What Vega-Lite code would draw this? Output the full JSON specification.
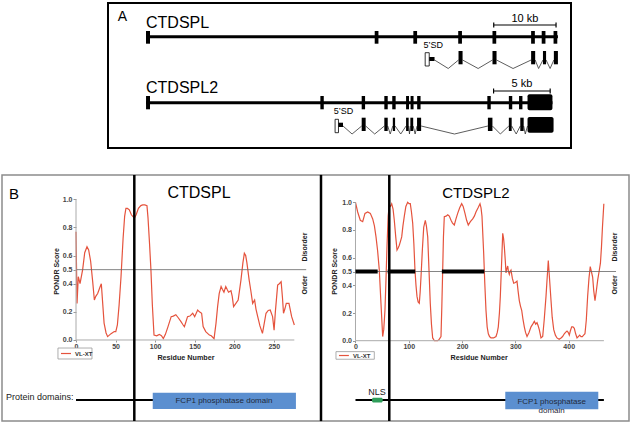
{
  "$schema": "https://vega.github.io/schema/vega-lite/v6.json",
  "padding": {"left": 1, "top": 2, "right": 0, "bottom": 0},
  "background": "white",
  "spacing": 24,
  "config": {"font": "Liberation Sans", "text": {"baseline": "middle"}},
  "datasets": {
    "g1_gene": [{"start": 0, "end": 66.1}],
    "g1_exons": [{"start": 0, "end": 0.64}, {"start": 36.7, "end": 37.3}, {"start": 42.9, "end": 43.5}, {"start": 50.1, "end": 50.7}, {"start": 55.6, "end": 56.2}, {"start": 61.8, "end": 62.4}, {"start": 63.5, "end": 64.1}, {"start": 65.4, "end": 66.0}],
    "g1_scale": [{"start": 55.8, "end": 65.8, "label": "10 kb"}],
    "g1_first": [{"start": 44.8, "mid": 45.45, "end": 46.3}],
    "g1_tx": [{"start": 50.15, "end": 50.8}, {"start": 55.6, "end": 56.25}, {"start": 61.8, "end": 62.45}, {"start": 63.7, "end": 64.2}, {"start": 65.45, "end": 66.1}],
    "g1_introns": [{"start": 46.3, "apex": 48.5, "end": 50.15}, {"start": 50.8, "apex": 53.3, "end": 55.6}, {"start": 56.25, "apex": 58.9, "end": 61.8}, {"start": 62.45, "apex": 63.0, "end": 63.7}, {"start": 64.2, "apex": 64.85, "end": 65.45}],
    "g2_gene": [{"start": 0, "end": 35.9}],
    "g2_exons": [{"start": 0, "end": 0.35}, {"start": 15.4, "end": 15.7}, {"start": 19.05, "end": 19.35}, {"start": 21.05, "end": 21.35}, {"start": 21.75, "end": 22.05}, {"start": 22.97, "end": 23.23}, {"start": 23.37, "end": 23.63}, {"start": 23.95, "end": 24.25}, {"start": 30.15, "end": 30.45}, {"start": 32.05, "end": 32.35}, {"start": 32.95, "end": 33.25}],
    "g2_last": [{"start": 33.7, "end": 35.9}],
    "g2_scale": [{"start": 30.7, "end": 35.7, "label": "5 kb"}],
    "g2_first": [{"start": 16.7, "mid": 17.0, "end": 17.4}],
    "g2_tx": [{"start": 19.05, "end": 19.4}, {"start": 21.05, "end": 21.35}, {"start": 21.8, "end": 22.0}, {"start": 22.97, "end": 23.2}, {"start": 23.35, "end": 23.6}, {"start": 23.94, "end": 24.3}, {"start": 30.2, "end": 30.6}, {"start": 32.05, "end": 32.3}, {"start": 33.06, "end": 33.36}],
    "g2_tx_last": [{"start": 33.7, "end": 36.0}],
    "g2_introns": [{"start": 17.4, "apex": 18.2, "end": 19.05}, {"start": 19.4, "apex": 20.2, "end": 21.05}, {"start": 21.35, "apex": 21.57, "end": 21.8}, {"start": 22.0, "apex": 22.5, "end": 22.97}, {"start": 23.2, "apex": 23.27, "end": 23.35}, {"start": 23.6, "apex": 23.77, "end": 23.94}, {"start": 24.3, "apex": 27.25, "end": 30.2}, {"start": 30.6, "apex": 31.3, "end": 32.05}, {"start": 32.3, "apex": 32.7, "end": 33.06}, {"start": 33.36, "apex": 33.5, "end": 33.7}],
    "ctdspl": [{"res":0,"score":0.77},{"res":1.3,"score":0.26},{"res":2.9,"score":0.45},{"res":5.1,"score":0.40},{"res":8.4,"score":0.50},{"res":11,"score":0.62},{"res":13.9,"score":0.663},{"res":16,"score":0.64},{"res":18.5,"score":0.56},{"res":21,"score":0.42},{"res":23.2,"score":0.284},{"res":25,"score":0.31},{"res":27.4,"score":0.33},{"res":30.6,"score":0.38},{"res":32,"score":0.40},{"res":33.5,"score":0.28},{"res":35.5,"score":0.12},{"res":38,"score":0.05},{"res":40,"score":0.024},{"res":44.3,"score":0.045},{"res":48.3,"score":0.06},{"res":50.3,"score":0.06},{"res":52.3,"score":0.107},{"res":54.5,"score":0.25},{"res":56.9,"score":0.45},{"res":59.5,"score":0.72},{"res":61.5,"score":0.88},{"res":63.1,"score":0.936},{"res":65,"score":0.935},{"res":67.4,"score":0.925},{"res":70,"score":0.89},{"res":73.8,"score":0.865},{"res":76,"score":0.89},{"res":78.9,"score":0.936},{"res":82,"score":0.955},{"res":84.3,"score":0.96},{"res":87,"score":0.96},{"res":89.7,"score":0.955},{"res":91,"score":0.87},{"res":93,"score":0.68},{"res":94.7,"score":0.5},{"res":96.5,"score":0.25},{"res":98.6,"score":0.035},{"res":102,"score":0.03},{"res":105.3,"score":0.04},{"res":108,"score":0.03},{"res":110.4,"score":0.01},{"res":113,"score":0.04},{"res":116,"score":0.09},{"res":120.3,"score":0.166},{"res":123,"score":0.17},{"res":126.2,"score":0.18},{"res":129,"score":0.16},{"res":132.7,"score":0.13},{"res":135,"score":0.11},{"res":137,"score":0.095},{"res":139,"score":0.13},{"res":141,"score":0.166},{"res":144,"score":0.17},{"res":147.5,"score":0.19},{"res":150,"score":0.166},{"res":153.8,"score":0.213},{"res":156,"score":0.2},{"res":158.8,"score":0.19},{"res":160.7,"score":0.095},{"res":164,"score":0.06},{"res":168.6,"score":0.035},{"res":171,"score":0.03},{"res":174.5,"score":0.01},{"res":177,"score":0.12},{"res":179,"score":0.237},{"res":181,"score":0.33},{"res":183.4,"score":0.38},{"res":185,"score":0.36},{"res":187,"score":0.34},{"res":189.3,"score":0.38},{"res":191,"score":0.36},{"res":192.8,"score":0.34},{"res":195.9,"score":0.35},{"res":197.5,"score":0.31},{"res":199.2,"score":0.237},{"res":202.1,"score":0.26},{"res":205,"score":0.284},{"res":208.5,"score":0.426},{"res":211,"score":0.55},{"res":212.8,"score":0.616},{"res":214.5,"score":0.6},{"res":216,"score":0.55},{"res":218.9,"score":0.426},{"res":221,"score":0.35},{"res":223.3,"score":0.26},{"res":225.8,"score":0.284},{"res":227.5,"score":0.22},{"res":229.7,"score":0.166},{"res":232.5,"score":0.1},{"res":235.7,"score":0.047},{"res":238,"score":0.12},{"res":240.2,"score":0.19},{"res":243,"score":0.21},{"res":245.5,"score":0.213},{"res":248.5,"score":0.166},{"res":250.4,"score":0.07},{"res":252,"score":0.2},{"res":254.9,"score":0.39},{"res":257,"score":0.40},{"res":259.3,"score":0.414},{"res":261,"score":0.3},{"res":262.3,"score":0.19},{"res":264,"score":0.22},{"res":265.8,"score":0.26},{"res":269.2,"score":0.26},{"res":272.6,"score":0.166},{"res":276,"score":0.107}],
    "ctdspl2": [{"res":0,"score":1.0},{"res":4.1,"score":0.93},{"res":9,"score":0.87},{"res":13.5,"score":0.86},{"res":17.8,"score":0.92},{"res":22.9,"score":0.93},{"res":27.8,"score":0.92},{"res":32.3,"score":0.88},{"res":35.5,"score":0.83},{"res":38.5,"score":0.75},{"res":41.5,"score":0.65},{"res":44.7,"score":0.51},{"res":47.8,"score":0.27},{"res":51,"score":0.03},{"res":53,"score":0.08},{"res":55.3,"score":0.22},{"res":57.3,"score":0.45},{"res":59.1,"score":0.68},{"res":61.3,"score":0.9},{"res":63.4,"score":0.98},{"res":65.5,"score":0.97},{"res":67.9,"score":0.99},{"res":70.5,"score":0.95},{"res":72.8,"score":0.87},{"res":75.5,"score":0.75},{"res":77.9,"score":0.655},{"res":80,"score":0.67},{"res":82.2,"score":0.69},{"res":84.5,"score":0.72},{"res":86.7,"score":0.75},{"res":89,"score":0.83},{"res":91.6,"score":0.90},{"res":94.5,"score":0.97},{"res":97.9,"score":1.0},{"res":100.5,"score":0.99},{"res":102.8,"score":0.99},{"res":105,"score":0.93},{"res":107.3,"score":0.85},{"res":109.5,"score":0.7},{"res":111.6,"score":0.51},{"res":113.5,"score":0.4},{"res":115.4,"score":0.32},{"res":117.5,"score":0.28},{"res":119.7,"score":0.27},{"res":121.3,"score":0.35},{"res":122.9,"score":0.46},{"res":125.5,"score":0.66},{"res":128,"score":0.82},{"res":131,"score":0.87},{"res":133,"score":0.83},{"res":135.5,"score":0.75},{"res":138,"score":0.5},{"res":140.3,"score":0.27},{"res":142.5,"score":0.12},{"res":144.8,"score":0.02},{"res":148,"score":0.0},{"res":151,"score":0.0},{"res":154.2,"score":0.0},{"res":157,"score":0.01},{"res":160.4,"score":0.03},{"res":162,"score":0.25},{"res":163.6,"score":0.51},{"res":165,"score":0.75},{"res":166.6,"score":0.896},{"res":170,"score":0.9},{"res":173,"score":0.91},{"res":176,"score":0.9},{"res":179.2,"score":0.87},{"res":182,"score":0.85},{"res":185.4,"score":0.836},{"res":188.5,"score":0.88},{"res":191.7,"score":0.92},{"res":195.5,"score":0.96},{"res":199.2,"score":0.99},{"res":202,"score":0.97},{"res":205.4,"score":0.92},{"res":208.5,"score":0.87},{"res":211.6,"score":0.836},{"res":215.5,"score":0.86},{"res":219.9,"score":0.88},{"res":223,"score":0.9},{"res":226,"score":0.93},{"res":230,"score":0.96},{"res":233.6,"score":0.99},{"res":235.5,"score":0.96},{"res":237.3,"score":0.90},{"res":240.5,"score":0.63},{"res":242.5,"score":0.42},{"res":244.8,"score":0.22},{"res":247,"score":0.1},{"res":249.2,"score":0.05},{"res":251.5,"score":0.03},{"res":254.2,"score":0.02},{"res":259,"score":0.02},{"res":263.6,"score":0.03},{"res":266,"score":0.06},{"res":267.9,"score":0.10},{"res":270,"score":0.2},{"res":271.7,"score":0.32},{"res":274,"score":0.55},{"res":276.2,"score":0.776},{"res":277.8,"score":0.74},{"res":279.2,"score":0.68},{"res":281,"score":0.58},{"res":282.4,"score":0.49},{"res":284,"score":0.52},{"res":285.6,"score":0.54},{"res":287,"score":0.5},{"res":288.6,"score":0.48},{"res":290,"score":0.5},{"res":291.7,"score":0.51},{"res":294.3,"score":0.45},{"res":296.8,"score":0.415},{"res":300,"score":0.42},{"res":303,"score":0.43},{"res":305,"score":0.36},{"res":307.3,"score":0.29},{"res":309.5,"score":0.25},{"res":311.8,"score":0.22},{"res":314,"score":0.16},{"res":316.7,"score":0.10},{"res":319,"score":0.06},{"res":321.8,"score":0.03},{"res":325.5,"score":0.06},{"res":329.3,"score":0.10},{"res":332.5,"score":0.12},{"res":335.5,"score":0.14},{"res":338,"score":0.12},{"res":340.5,"score":0.13},{"res":342.5,"score":0.11},{"res":344.8,"score":0.08},{"res":348,"score":0.02},{"res":351.2,"score":0.03},{"res":354,"score":0.15},{"res":357.4,"score":0.32},{"res":359.5,"score":0.45},{"res":361.7,"score":0.58},{"res":364,"score":0.45},{"res":366.8,"score":0.29},{"res":369,"score":0.17},{"res":371.9,"score":0.08},{"res":375,"score":0.04},{"res":378,"score":0.02},{"res":382,"score":0.01},{"res":385.6,"score":0.02},{"res":388.5,"score":0.03},{"res":391.7,"score":0.05},{"res":394,"score":0.06},{"res":396.8,"score":0.07},{"res":399,"score":0.06},{"res":401.1,"score":0.04},{"res":403,"score":0.07},{"res":405.6,"score":0.10},{"res":408,"score":0.1},{"res":410.5,"score":0.09},{"res":413,"score":0.05},{"res":415.6,"score":0.02},{"res":418,"score":0.03},{"res":420.6,"score":0.04},{"res":423,"score":0.03},{"res":425.5,"score":0.03},{"res":428,"score":0.04},{"res":430.5,"score":0.05},{"res":433,"score":0.15},{"res":435.5,"score":0.32},{"res":438,"score":0.45},{"res":440.4,"score":0.535},{"res":442.5,"score":0.5},{"res":444.9,"score":0.46},{"res":447,"score":0.36},{"res":449.3,"score":0.29},{"res":451.5,"score":0.35},{"res":454.4,"score":0.44},{"res":457,"score":0.5},{"res":459.5,"score":0.56},{"res":461.5,"score":0.68},{"res":463.3,"score":0.82},{"res":465.9,"score":0.99}],
    "ctdspl_protein": [{"start": 0, "end": 276}],
    "ctdspl_domains": [{"name": "FCP1 phosphatase domain", "start": 97, "end": 278}],
    "ctdspl2_protein": [{"start": 0, "end": 466}],
    "ctdspl2_nls": [{"name": "NLS", "start": 31, "end": 51}],
    "ctdspl2_domains": [{"name": "FCP1 phosphatase\ndomain", "start": 281, "end": 455.5}],
    "ctdspl2_disorder": [{"start": 0, "end": 41.6}, {"start": 60.4, "end": 112}, {"start": 162, "end": 241.6}],
    "one": [{}]
  },
  "vconcat": [
    {
      "spacing": 0,
      "bounds": "flush",
      "hconcat": [
        {"width": 106, "height": 145, "data": {"name": "one"}, "mark": {"type": "point", "opacity": 0}, "encoding": {}, "view": {"stroke": null}},
        {
          "width": 463,
          "height": 145,
          "view": {"stroke": "black", "strokeWidth": 2},
          "resolve": {"scale": {"x": "independent"}},
          "layer": [
            {
              "layer": [
                {"data": {"name": "g1_gene"}, "mark": {"type": "rule", "color": "black", "strokeWidth": 3},
                 "encoding": {"x": {"field": "start", "type": "quantitative", "scale": {"domain": [-6.1, 68.2], "nice": false, "zero": false}, "axis": null}, "x2": {"field": "end"},
                              "y": {"datum": 33.7, "type": "quantitative", "scale": {"domain": [0, 145], "reverse": true, "nice": false, "zero": false}, "axis": null}}},
                {"data": {"name": "g1_exons"}, "mark": {"type": "rect", "color": "black"},
                 "encoding": {"x": {"field": "start", "type": "quantitative", "axis": null}, "x2": {"field": "end"}, "y": {"datum": 28, "type": "quantitative", "axis": null}, "y2": {"datum": 40.7}}},
                {"data": {"name": "g1_scale"}, "mark": {"type": "rule", "color": "black", "strokeWidth": 1.2},
                 "encoding": {"x": {"field": "start", "type": "quantitative", "axis": null}, "x2": {"field": "end"}, "y": {"datum": 22, "type": "quantitative", "axis": null}}},
                {"data": {"name": "g1_scale"}, "mark": {"type": "rule", "color": "black", "strokeWidth": 1.2},
                 "encoding": {"x": {"field": "start", "type": "quantitative", "axis": null}, "y": {"datum": 19.5, "type": "quantitative", "axis": null}, "y2": {"datum": 24.5}}},
                {"data": {"name": "g1_scale"}, "mark": {"type": "rule", "color": "black", "strokeWidth": 1.2},
                 "encoding": {"x": {"field": "end", "type": "quantitative", "axis": null}, "y": {"datum": 19.5, "type": "quantitative", "axis": null}, "y2": {"datum": 24.5}}},
                {"data": {"name": "g1_scale"}, "mark": {"type": "text", "fontSize": 11, "color": "black"},
                 "encoding": {"x": {"datum": 60.8, "type": "quantitative", "axis": null}, "y": {"datum": 15.8, "type": "quantitative", "axis": null}, "text": {"field": "label"}}},
                {"data": {"name": "one"}, "mark": {"type": "text", "fontSize": 16, "align": "left", "color": "black"},
                 "encoding": {"x": {"datum": 0, "type": "quantitative", "axis": null}, "y": {"datum": 20, "type": "quantitative", "axis": null}, "text": {"value": "CTDSPL"}}},
                {"data": {"name": "one"}, "mark": {"type": "text", "fontSize": 14, "color": "black"},
                 "encoding": {"x": {"datum": -3.77, "type": "quantitative", "axis": null}, "y": {"datum": 13.5, "type": "quantitative", "axis": null}, "text": {"value": "A"}}},
                {"data": {"name": "one"}, "mark": {"type": "text", "fontSize": 9, "color": "black"},
                 "encoding": {"x": {"datum": 46.1, "type": "quantitative", "axis": null}, "y": {"datum": 42.3, "type": "quantitative", "axis": null}, "text": {"value": "5’SD"}}},
                {"data": {"name": "g1_introns"}, "mark": {"type": "rule", "color": "#333", "strokeWidth": 0.8},
                 "encoding": {"x": {"field": "start", "type": "quantitative", "axis": null}, "x2": {"field": "apex"}, "y": {"datum": 57, "type": "quantitative", "axis": null}, "y2": {"datum": 65.5}}},
                {"data": {"name": "g1_introns"}, "mark": {"type": "rule", "color": "#333", "strokeWidth": 0.8},
                 "encoding": {"x": {"field": "apex", "type": "quantitative", "axis": null}, "x2": {"field": "end"}, "y": {"datum": 65.5, "type": "quantitative", "axis": null}, "y2": {"datum": 57}}},
                {"data": {"name": "g1_first"}, "mark": {"type": "rect", "fill": "white", "stroke": "black", "strokeWidth": 0.8},
                 "encoding": {"x": {"field": "start", "type": "quantitative", "axis": null}, "x2": {"field": "mid"}, "y": {"datum": 49.7, "type": "quantitative", "axis": null}, "y2": {"datum": 63}}},
                {"data": {"name": "g1_first"}, "mark": {"type": "rect", "color": "black"},
                 "encoding": {"x": {"field": "mid", "type": "quantitative", "axis": null}, "x2": {"field": "end"}, "y": {"datum": 54, "type": "quantitative", "axis": null}, "y2": {"datum": 58}}},
                {"data": {"name": "g1_tx"}, "mark": {"type": "rect", "color": "black"},
                 "encoding": {"x": {"field": "start", "type": "quantitative", "axis": null}, "x2": {"field": "end"}, "y": {"datum": 48, "type": "quantitative", "axis": null}, "y2": {"datum": 61.3}}}
              ]
            },
            {
              "layer": [
                {"data": {"name": "g2_gene"}, "mark": {"type": "rule", "color": "black", "strokeWidth": 3},
                 "encoding": {"x": {"field": "start", "type": "quantitative", "scale": {"domain": [-3.36, 37.54], "nice": false, "zero": false}, "axis": null}, "x2": {"field": "end"},
                              "y": {"datum": 99.7, "type": "quantitative", "axis": null}}},
                {"data": {"name": "g2_exons"}, "mark": {"type": "rect", "color": "black"},
                 "encoding": {"x": {"field": "start", "type": "quantitative", "axis": null}, "x2": {"field": "end"}, "y": {"datum": 93, "type": "quantitative", "axis": null}, "y2": {"datum": 106.3}}},
                {"data": {"name": "g2_last"}, "mark": {"type": "rect", "color": "black", "cornerRadius": 2},
                 "encoding": {"x": {"field": "start", "type": "quantitative", "axis": null}, "x2": {"field": "end"}, "y": {"datum": 91.3, "type": "quantitative", "axis": null}, "y2": {"datum": 107.3}}},
                {"data": {"name": "g2_scale"}, "mark": {"type": "rule", "color": "black", "strokeWidth": 1.2},
                 "encoding": {"x": {"field": "start", "type": "quantitative", "axis": null}, "x2": {"field": "end"}, "y": {"datum": 88, "type": "quantitative", "axis": null}}},
                {"data": {"name": "g2_scale"}, "mark": {"type": "rule", "color": "black", "strokeWidth": 1.2},
                 "encoding": {"x": {"field": "start", "type": "quantitative", "axis": null}, "y": {"datum": 85.5, "type": "quantitative", "axis": null}, "y2": {"datum": 90.5}}},
                {"data": {"name": "g2_scale"}, "mark": {"type": "rule", "color": "black", "strokeWidth": 1.2},
                 "encoding": {"x": {"field": "end", "type": "quantitative", "axis": null}, "y": {"datum": 85.5, "type": "quantitative", "axis": null}, "y2": {"datum": 90.5}}},
                {"data": {"name": "g2_scale"}, "mark": {"type": "text", "fontSize": 11, "color": "black"},
                 "encoding": {"x": {"datum": 33.2, "type": "quantitative", "axis": null}, "y": {"datum": 80.5, "type": "quantitative", "axis": null}, "text": {"field": "label"}}},
                {"data": {"name": "one"}, "mark": {"type": "text", "fontSize": 16, "align": "left", "color": "black"},
                 "encoding": {"x": {"datum": 0, "type": "quantitative", "axis": null}, "y": {"datum": 85.3, "type": "quantitative", "axis": null}, "text": {"value": "CTDSPL2"}}},
                {"data": {"name": "one"}, "mark": {"type": "text", "fontSize": 9, "color": "black"},
                 "encoding": {"x": {"datum": 17.45, "type": "quantitative", "axis": null}, "y": {"datum": 108, "type": "quantitative", "axis": null}, "text": {"value": "5’SD"}}},
                {"data": {"name": "g2_introns"}, "mark": {"type": "rule", "color": "#333", "strokeWidth": 0.8},
                 "encoding": {"x": {"field": "start", "type": "quantitative", "axis": null}, "x2": {"field": "apex"}, "y": {"datum": 123, "type": "quantitative", "axis": null}, "y2": {"datum": 131}}},
                {"data": {"name": "g2_introns"}, "mark": {"type": "rule", "color": "#333", "strokeWidth": 0.8},
                 "encoding": {"x": {"field": "apex", "type": "quantitative", "axis": null}, "x2": {"field": "end"}, "y": {"datum": 131, "type": "quantitative", "axis": null}, "y2": {"datum": 123}}},
                {"data": {"name": "g2_first"}, "mark": {"type": "rect", "fill": "white", "stroke": "black", "strokeWidth": 0.8},
                 "encoding": {"x": {"field": "start", "type": "quantitative", "axis": null}, "x2": {"field": "mid"}, "y": {"datum": 116.3, "type": "quantitative", "axis": null}, "y2": {"datum": 129.7}}},
                {"data": {"name": "g2_first"}, "mark": {"type": "rect", "color": "black"},
                 "encoding": {"x": {"field": "mid", "type": "quantitative", "axis": null}, "x2": {"field": "end"}, "y": {"datum": 119.7, "type": "quantitative", "axis": null}, "y2": {"datum": 124}}},
                {"data": {"name": "g2_tx"}, "mark": {"type": "rect", "color": "black"},
                 "encoding": {"x": {"field": "start", "type": "quantitative", "axis": null}, "x2": {"field": "end"}, "y": {"datum": 114.7, "type": "quantitative", "axis": null}, "y2": {"datum": 128}}},
                {"data": {"name": "g2_tx_last"}, "mark": {"type": "rect", "color": "black", "cornerRadius": 2},
                 "encoding": {"x": {"field": "start", "type": "quantitative", "axis": null}, "x2": {"field": "end"}, "y": {"datum": 114, "type": "quantitative", "axis": null}, "y2": {"datum": 129.7}}}
              ]
            }
          ]
        }
      ]
    },
    {
      "spacing": 0,
      "bounds": "flush",
      "hconcat": [
        {
          "width": 319,
          "height": 246,
          "view": {"stroke": "#8c8c8c", "strokeWidth": 1.5},
          "layer": [
            {"data": {"name": "ctdspl"}, "mark": {"type": "line", "color": "#e5533d", "strokeWidth": 1.2},
             "encoding": {
               "x": {"field": "res", "type": "quantitative", "scale": {"domain": [-93.55, 309.7], "nice": false, "zero": false}, "axis": {"values": [0, 50, 100, 150, 200, 250], "offset": -81, "domain": false, "grid": false, "title": null, "tickSize": 2, "tickColor": "#999", "labelFontSize": 7, "labelFontWeight": "bold", "labelColor": "#444", "labelPadding": 0, "labelOverlap": false}},
               "y": {"field": "score", "type": "quantitative", "scale": {"domain": [-0.5757, 1.1727], "nice": false, "zero": false}, "axis": {"values": [0, 0.2, 0.4, 0.5, 0.6, 0.8, 1], "format": ".1f", "offset": -74, "domain": false, "grid": false, "title": null, "tickSize": 3, "tickColor": "#999", "labelFontSize": 7, "labelFontWeight": "bold", "labelColor": "#444", "labelPadding": 1, "labelOverlap": false}}}},
            {"data": {"name": "one"}, "mark": {"type": "rule", "color": "#666", "strokeWidth": 0.8},
             "encoding": {"x": {"datum": 0, "type": "quantitative"}, "x2": {"datum": 291}, "y": {"datum": 0.5, "type": "quantitative"}}},
            {"data": {"name": "one"}, "mark": {"type": "rule", "color": "#aaa", "strokeWidth": 1},
             "encoding": {"x": {"datum": 0, "type": "quantitative"}, "y": {"datum": 0, "type": "quantitative"}, "y2": {"datum": 1}}},
            {"data": {"name": "one"}, "mark": {"type": "rule", "color": "#aaa", "strokeWidth": 1},
             "encoding": {"x": {"datum": 0, "type": "quantitative"}, "x2": {"datum": 276}, "y": {"datum": 0, "type": "quantitative"}}},
            {"data": {"name": "one"}, "mark": {"type": "rule", "color": "black", "strokeWidth": 2.5},
             "encoding": {"x": {"datum": 73.7, "type": "quantitative"}}},
            {"data": {"name": "ctdspl_protein"}, "mark": {"type": "rule", "color": "black", "strokeWidth": 2},
             "encoding": {"x": {"field": "start", "type": "quantitative"}, "x2": {"field": "end"}, "y": {"datum": -0.426, "type": "quantitative"}}},
            {"data": {"name": "ctdspl_domains"}, "mark": {"type": "rect", "color": "#5b8fd0"},
             "encoding": {"x": {"field": "start", "type": "quantitative"}, "x2": {"field": "end"}, "y": {"datum": -0.3746, "type": "quantitative"}, "y2": {"datum": -0.49}}},
            {"data": {"name": "ctdspl_domains"}, "mark": {"type": "text", "fontSize": 8, "color": "#1f2a3a"},
             "encoding": {"x": {"datum": 187, "type": "quantitative"}, "y": {"datum": -0.434, "type": "quantitative"}, "text": {"field": "name"}}},
            {"data": {"name": "one"}, "mark": {"type": "text", "fontSize": 9, "align": "left", "color": "#222"},
             "encoding": {"x": {"datum": -88.5, "type": "quantitative"}, "y": {"datum": -0.405, "type": "quantitative"}, "text": {"value": "Protein domains:"}}},
            {"data": {"name": "one"}, "mark": {"type": "text", "fontSize": 16, "color": "black"},
             "encoding": {"x": {"datum": 155.5, "type": "quantitative"}, "y": {"datum": 1.045, "type": "quantitative"}, "text": {"value": "CTDSPL"}}},
            {"data": {"name": "one"}, "mark": {"type": "text", "fontSize": 15, "color": "black"},
             "encoding": {"x": {"datum": -78.4, "type": "quantitative"}, "y": {"datum": 1.04, "type": "quantitative"}, "text": {"value": "B"}}},
            {"data": {"name": "one"}, "mark": {"type": "text", "fontSize": 7, "fontWeight": "bold", "angle": 270, "color": "#222"},
             "encoding": {"x": {"datum": -23.5, "type": "quantitative"}, "y": {"datum": 0.487, "type": "quantitative"}, "text": {"value": "PONDR Score"}}},
            {"data": {"name": "one"}, "mark": {"type": "text", "fontSize": 7.2, "fontWeight": "bold", "color": "#222"},
             "encoding": {"x": {"datum": 139, "type": "quantitative"}, "y": {"datum": -0.126, "type": "quantitative"}, "text": {"value": "Residue Number"}}},
            {"data": {"name": "one"}, "mark": {"type": "text", "fontSize": 7, "fontWeight": "bold", "angle": 270, "color": "#222"},
             "encoding": {"x": {"datum": 289.5, "type": "quantitative"}, "y": {"datum": 0.661, "type": "quantitative"}, "text": {"value": "Disorder"}}},
            {"data": {"name": "one"}, "mark": {"type": "text", "fontSize": 7, "fontWeight": "bold", "angle": 270, "color": "#222"},
             "encoding": {"x": {"datum": 289.5, "type": "quantitative"}, "y": {"datum": 0.391, "type": "quantitative"}, "text": {"value": "Order"}}},
            {"data": {"name": "one"}, "mark": {"type": "rect", "fill": "white", "stroke": "#999", "strokeWidth": 0.8},
             "encoding": {"x": {"datum": -22.8, "type": "quantitative"}, "x2": {"datum": 20.2}, "y": {"datum": -0.057, "type": "quantitative"}, "y2": {"datum": -0.135}}},
            {"data": {"name": "one"}, "mark": {"type": "rule", "color": "#e5533d", "strokeWidth": 1.2},
             "encoding": {"x": {"datum": -19, "type": "quantitative"}, "x2": {"datum": -6.3}, "y": {"datum": -0.096, "type": "quantitative"}}},
            {"data": {"name": "one"}, "mark": {"type": "text", "fontSize": 6, "fontWeight": "bold", "align": "left", "color": "#333"},
             "encoding": {"x": {"datum": -1.3, "type": "quantitative"}, "y": {"datum": -0.096, "type": "quantitative"}, "text": {"value": "VL-XT"}}}
          ]
        },
        {
          "width": 308,
          "height": 246,
          "view": {"stroke": "#8c8c8c", "strokeWidth": 1.5},
          "layer": [
            {"data": {"name": "ctdspl2"}, "mark": {"type": "line", "color": "#e5533d", "strokeWidth": 1.2},
             "encoding": {
               "x": {"field": "res", "type": "quantitative", "scale": {"domain": [-64.7, 513.1], "nice": false, "zero": false}, "axis": {"values": [0, 100, 200, 300, 400], "offset": -80.3, "domain": false, "grid": false, "title": null, "tickSize": 2, "tickColor": "#999", "labelFontSize": 7, "labelFontWeight": "bold", "labelColor": "#444", "labelPadding": 0, "labelOverlap": false}},
               "y": {"field": "score", "type": "quantitative", "scale": {"domain": [-0.5802, 1.1973], "nice": false, "zero": false}, "axis": {"values": [0, 0.2, 0.4, 0.5, 0.6, 0.8, 1], "format": ".1f", "offset": -34.5, "domain": false, "grid": false, "title": null, "tickSize": 3, "tickColor": "#999", "labelFontSize": 7, "labelFontWeight": "bold", "labelColor": "#444", "labelPadding": 1, "labelOverlap": false}}}},
            {"data": {"name": "one"}, "mark": {"type": "rule", "color": "#666", "strokeWidth": 0.8},
             "encoding": {"x": {"datum": 0, "type": "quantitative"}, "x2": {"datum": 488.8}, "y": {"datum": 0.5, "type": "quantitative"}}},
            {"data": {"name": "one"}, "mark": {"type": "rule", "color": "#aaa", "strokeWidth": 1},
             "encoding": {"x": {"datum": 0, "type": "quantitative"}, "y": {"datum": 0, "type": "quantitative"}, "y2": {"datum": 1}}},
            {"data": {"name": "one"}, "mark": {"type": "rule", "color": "#aaa", "strokeWidth": 1},
             "encoding": {"x": {"datum": 0, "type": "quantitative"}, "x2": {"datum": 466}, "y": {"datum": 0, "type": "quantitative"}}},
            {"data": {"name": "ctdspl2_disorder"}, "mark": {"type": "rule", "color": "black", "strokeWidth": 4, "strokeCap": "butt"},
             "encoding": {"x": {"field": "start", "type": "quantitative"}, "x2": {"field": "end"}, "y": {"datum": 0.5, "type": "quantitative"}}},
            {"data": {"name": "one"}, "mark": {"type": "rule", "color": "black", "strokeWidth": 2.5},
             "encoding": {"x": {"datum": 63.4, "type": "quantitative"}}},
            {"data": {"name": "one"}, "mark": {"type": "rule", "color": "black", "strokeWidth": 2.5},
             "encoding": {"x": {"datum": -64.7, "type": "quantitative"}}},
            {"data": {"name": "ctdspl2_protein"}, "mark": {"type": "rule", "color": "black", "strokeWidth": 2},
             "encoding": {"x": {"field": "start", "type": "quantitative"}, "x2": {"field": "end"}, "y": {"datum": -0.428, "type": "quantitative"}}},
            {"data": {"name": "ctdspl2_nls"}, "mark": {"type": "rect", "color": "#2f9e5a", "cornerRadius": 1.5},
             "encoding": {"x": {"field": "start", "type": "quantitative"}, "x2": {"field": "end"}, "y": {"datum": -0.412, "type": "quantitative"}, "y2": {"datum": -0.447}}},
            {"data": {"name": "ctdspl2_nls"}, "mark": {"type": "text", "fontSize": 9, "color": "#222"},
             "encoding": {"x": {"datum": 40.3, "type": "quantitative"}, "y": {"datum": -0.372, "type": "quantitative"}, "text": {"field": "name"}}},
            {"data": {"name": "ctdspl2_domains"}, "mark": {"type": "rect", "color": "#5b8fd0"},
             "encoding": {"x": {"field": "start", "type": "quantitative"}, "x2": {"field": "end"}, "y": {"datum": -0.368, "type": "quantitative"}, "y2": {"datum": -0.496}}},
            {"data": {"name": "ctdspl2_domains"}, "mark": {"type": "text", "fontSize": 8, "color": "#1f2a3a", "lineBreak": "\n", "lineHeight": 8.5},
             "encoding": {"x": {"datum": 368, "type": "quantitative"}, "y": {"datum": -0.443, "type": "quantitative"}, "text": {"field": "name"}}},
            {"data": {"name": "one"}, "mark": {"type": "text", "fontSize": 15, "color": "black"},
             "encoding": {"x": {"datum": 226, "type": "quantitative"}, "y": {"datum": 1.067, "type": "quantitative"}, "text": {"value": "CTDSPL2"}}},
            {"data": {"name": "one"}, "mark": {"type": "text", "fontSize": 7, "fontWeight": "bold", "angle": 270, "color": "#222"},
             "encoding": {"x": {"datum": -38.5, "type": "quantitative"}, "y": {"datum": 0.5, "type": "quantitative"}, "text": {"value": "PONDR Score"}}},
            {"data": {"name": "one"}, "mark": {"type": "text", "fontSize": 7.2, "fontWeight": "bold", "color": "#222"},
             "encoding": {"x": {"datum": 232, "type": "quantitative"}, "y": {"datum": -0.123, "type": "quantitative"}, "text": {"value": "Residue Number"}}},
            {"data": {"name": "one"}, "mark": {"type": "text", "fontSize": 7, "fontWeight": "bold", "angle": 270, "color": "#222"},
             "encoding": {"x": {"datum": 487, "type": "quantitative"}, "y": {"datum": 0.677, "type": "quantitative"}, "text": {"value": "Disorder"}}},
            {"data": {"name": "one"}, "mark": {"type": "text", "fontSize": 7, "fontWeight": "bold", "angle": 270, "color": "#222"},
             "encoding": {"x": {"datum": 487, "type": "quantitative"}, "y": {"datum": 0.403, "type": "quantitative"}, "text": {"value": "Order"}}},
            {"data": {"name": "one"}, "mark": {"type": "rect", "fill": "white", "stroke": "#999", "strokeWidth": 0.8},
             "encoding": {"x": {"datum": -36.6, "type": "quantitative"}, "x2": {"datum": 35.3}, "y": {"datum": -0.079, "type": "quantitative"}, "y2": {"datum": -0.134}}},
            {"data": {"name": "one"}, "mark": {"type": "rule", "color": "#e5533d", "strokeWidth": 1.2},
             "encoding": {"x": {"datum": -31, "type": "quantitative"}, "x2": {"datum": -12.4}, "y": {"datum": -0.107, "type": "quantitative"}}},
            {"data": {"name": "one"}, "mark": {"type": "text", "fontSize": 6, "fontWeight": "bold", "align": "left", "color": "#333"},
             "encoding": {"x": {"datum": -4.7, "type": "quantitative"}, "y": {"datum": -0.107, "type": "quantitative"}, "text": {"value": "VL-XT"}}}
          ]
        }
      ]
    }
  ]
}
